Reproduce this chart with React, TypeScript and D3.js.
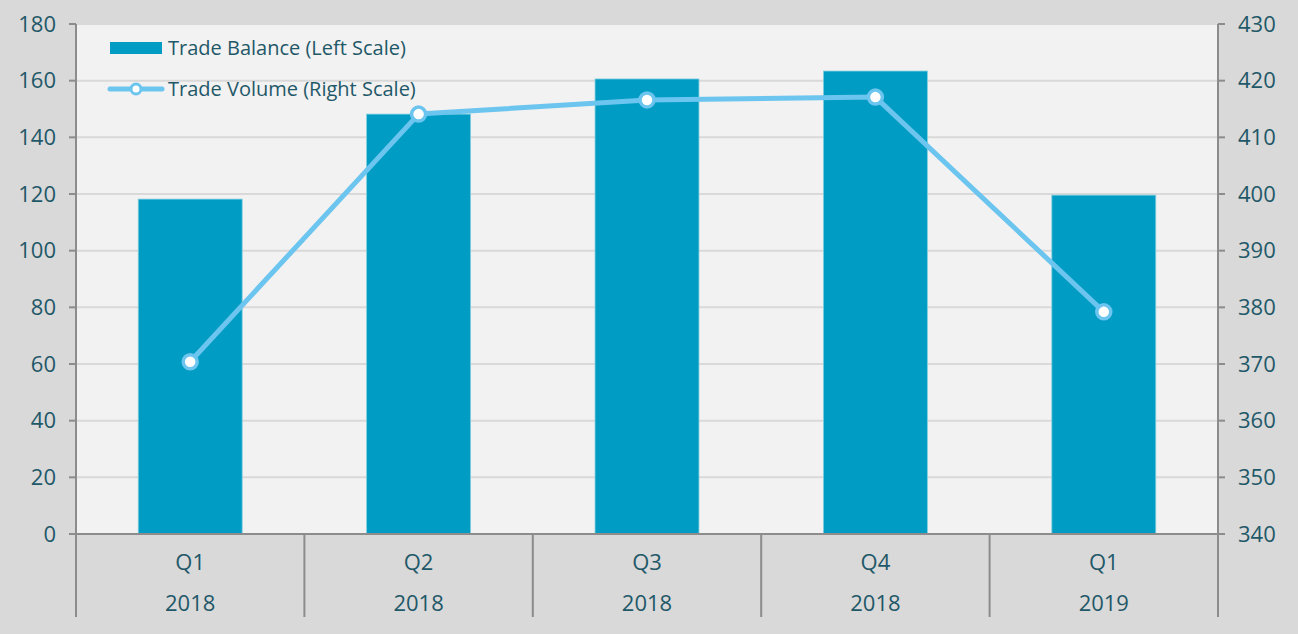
import React from "react";
import * as d3 from "d3";

const quarters = ["Q1", "Q2", "Q3", "Q4", "Q1"];
const years = ["2018", "2018", "2018", "2018", "2019"];
const tradeBalance = [118.2, 148.2, 160.6, 163.4, 119.6];
const tradeVolume = [370.4, 414.1, 416.6, 417.1, 379.2];
const leftTicks = [0, 20, 40, 60, 80, 100, 120, 140, 160, 180];
const rightTicks = [340, 350, 360, 370, 380, 390, 400, 410, 420, 430];
const legendLabels = ["Trade Balance (Left Scale)", "Trade Volume (Right Scale)"];

const W = 1298;
const H = 634;
const M = { left: 76, right: 1218, top: 24, bottom: 534 };
const TEXT = "#1f5868";
const BAR = "#009cc3";
const LINE = "#6cc5ef";
const AXIS = "#8c8c8c";
const GRID = "#d9d9d9";
const FONT = "'Open Sans', 'DejaVu Sans', sans-serif";

export default function App() {
  const idx = quarters.map((_, i) => i);
  const x = d3.scaleBand<number>().domain(idx).range([M.left, M.right]).paddingInner(0).paddingOuter(0);
  const yL = d3.scaleLinear().domain([0, 180]).range([M.bottom, M.top]);
  const yR = d3.scaleLinear().domain([340, 430]).range([M.bottom, M.top]);
  const bw = x.bandwidth() * 0.455;
  const cx = (i: number) => (x(i) as number) + x.bandwidth() / 2;
  const line = d3
    .line<number>()
    .x((_, i) => cx(i))
    .y((d) => yR(d));
  const bounds = [...idx.map((i) => x(i) as number), M.right];

  return (
    <svg
      width={W}
      height={H}
      style={{ position: "absolute", left: 0, top: 0, display: "block" }}
      fontFamily={FONT}
    >
      <rect x={0} y={0} width={W} height={H} fill="#d9d9d9" />
      <rect x={M.left} y={M.top + 1} width={M.right - M.left} height={M.bottom - M.top - 1} fill="#f2f2f2" />
      {leftTicks.slice(1, -1).map((t) => (
        <line key={"g" + t} x1={M.left} x2={M.right} y1={yL(t)} y2={yL(t)} stroke={GRID} strokeWidth={2} />
      ))}
      {tradeBalance.map((v, i) => (
        <rect
          key={"b" + i}
          x={cx(i) - bw / 2}
          y={yL(v)}
          width={bw}
          height={yL(0) - yL(v)}
          fill={BAR}
          stroke="#7fcde0"
          strokeWidth={0.8}
        />
      ))}
      {/* axes */}
      <line x1={M.left} x2={M.left} y1={M.top} y2={M.bottom} stroke={AXIS} strokeWidth={2} />
      <line x1={M.right} x2={M.right} y1={M.top} y2={M.bottom} stroke={AXIS} strokeWidth={2} />
      {leftTicks.map((t) => (
        <g key={"l" + t}>
          <line x1={M.left - 7} x2={M.left} y1={yL(t)} y2={yL(t)} stroke={AXIS} strokeWidth={2} />
          <text x={56} y={yL(t)} dy="0.35em" textAnchor="end" fontSize={22} fill={TEXT}>
            {t}
          </text>
        </g>
      ))}
      {rightTicks.map((t) => (
        <g key={"r" + t}>
          <line x1={M.right} x2={M.right + 7} y1={yR(t)} y2={yR(t)} stroke={AXIS} strokeWidth={2} />
          <text x={1238} y={yR(t)} dy="0.35em" textAnchor="start" fontSize={22} fill={TEXT}>
            {t}
          </text>
        </g>
      ))}
      <line x1={M.left - 7} x2={M.right + 7} y1={M.bottom} y2={M.bottom} stroke={AXIS} strokeWidth={2} />
      {bounds.map((b, i) => (
        <line key={"s" + i} x1={b} x2={b} y1={M.bottom} y2={617} stroke={AXIS} strokeWidth={2} />
      ))}
      {idx.map((i) => (
        <g key={"c" + i}>
          <text x={cx(i)} y={562} dy="0.35em" textAnchor="middle" fontSize={22} fill={TEXT}>
            {quarters[i]}
          </text>
          <text x={cx(i)} y={603} dy="0.35em" textAnchor="middle" fontSize={22} fill={TEXT}>
            {years[i]}
          </text>
        </g>
      ))}
      {/* line series */}
      <path d={line(tradeVolume) || ""} fill="none" stroke={LINE} strokeWidth={5} strokeLinejoin="round" strokeLinecap="round" />
      {tradeVolume.map((v, i) => (
        <circle key={"p" + i} cx={cx(i)} cy={yR(v)} r={7} fill="#ffffff" stroke={LINE} strokeWidth={3.5} />
      ))}
      {/* legend */}
      <rect x={110} y={42} width={52} height={12} fill={BAR} />
      <text x={168} y={48} dy="0.35em" fontSize={20} fill={TEXT}>
        {legendLabels[0]}
      </text>
      <line x1={110} x2={162} y1={89} y2={89} stroke={LINE} strokeWidth={5} strokeLinecap="round" />
      <circle cx={136} cy={89} r={5} fill="#ffffff" stroke={LINE} strokeWidth={3} />
      <text x={168} y={89} dy="0.35em" fontSize={20} fill={TEXT}>
        {legendLabels[1]}
      </text>
    </svg>
  );
}
